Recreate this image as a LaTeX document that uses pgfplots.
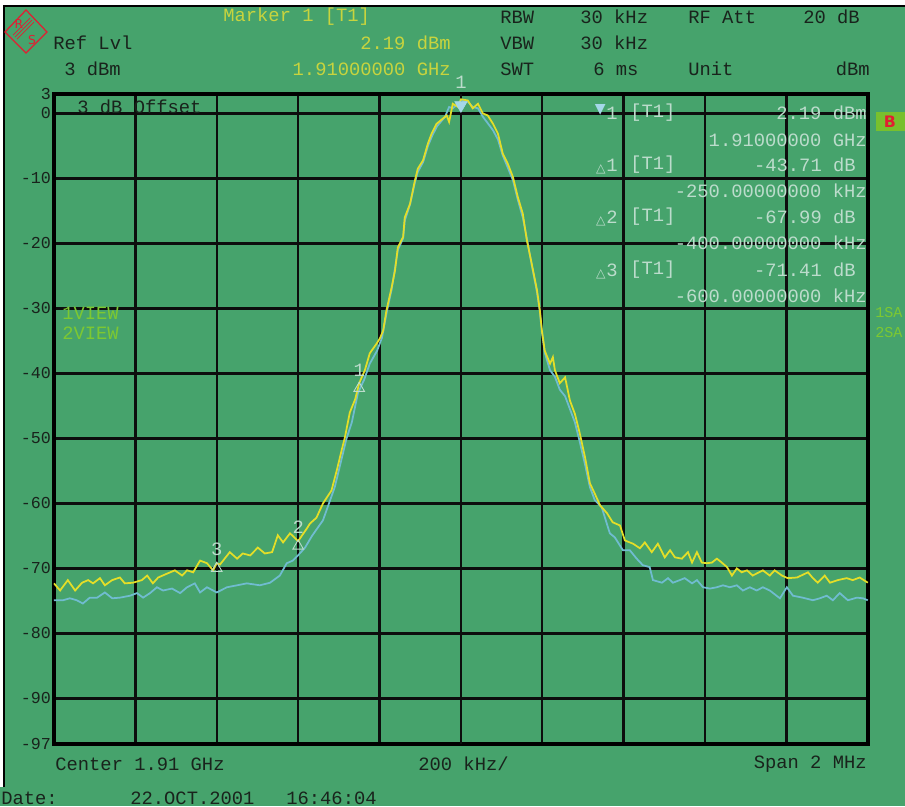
\documentclass[border=0pt]{standalone}
\usepackage{pgfplots}
\pgfplotsset{compat=1.18}
\usepackage{fontspec}
\newfontfamily\mono{Liberation Mono}
\newfontfamily\dejavu{DejaVu Sans}
\definecolor{bg}{RGB}{70,163,108}
\definecolor{dark}{RGB}{25,35,28}
\definecolor{ytxt}{RGB}{200,212,62}
\definecolor{ltxt}{RGB}{188,220,204}
\definecolor{ytrace}{RGB}{228,222,40}
\definecolor{btrace}{RGB}{112,188,208}
\definecolor{vgreen}{RGB}{125,200,50}
\definecolor{boxgreen}{RGB}{120,192,45}
\definecolor{mkblue}{RGB}{165,215,232}
\definecolor{rsred}{RGB}{225,30,50}
\newcommand\tf{\mono\fontsize{10.7}{12}\selectfont}
\begin{document}
\begin{tikzpicture}[x=0.02cm,y=-0.02cm]
\useasboundingbox (0,0) rectangle (905,806);
\clip (0,0) rectangle (905,806);
\fill[bg] (0,0) rectangle (905,806);
\fill[white] (0,0) rectangle (905,5);
\fill[white] (0,0) rectangle (3,787);
\draw[black, line width=1pt] (4,787) -- (4,6) -- (905,6);
% R&S logo
\draw[rsred, line width=0.7pt] (26,10) -- (47,32) -- (26,53) -- (5,32) -- cycle;
\foreach \o in {-2,0,2} {\draw[rsred, line width=0.4pt] (15+\o,37+\o) -- (32+\o,20+\o);}
\node[rsred, font=\dejavu\fontsize{7}{8}\selectfont, inner sep=0] at (19,24) {R};
\node[rsred, font=\dejavu\fontsize{7}{8}\selectfont, inner sep=0] at (32,40) {S};
\begin{axis}[
  at={(1.08cm,-1.88cm)}, anchor=north west,
  scale only axis, width=16.28cm, height=13cm,
  xmin=-1000, xmax=1000, ymin=-97, ymax=3,
  xtick={-800,-600,-400,-200,0,200,400,600,800}, xticklabels={},
  extra x ticks={0}, extra x tick labels={},
  extra x tick style={grid style={black, line width=2.3pt}},
  ytick={-97,-90,-80,-70,-60,-50,-40,-30,-20,-10,0,3},
  yticklabels={-97,-90,-80,-70,-60,-50,-40,-30,-20,-10,0,3},
  major tick length=0pt,
  grid=major, major grid style={black!95, line width=1.35pt},
  axis line style={black, line width=1.9pt},
  yticklabel style={font=\mono\fontsize{9.5}{10}\selectfont, text=dark, inner sep=1.5pt},
  clip=false,
]
\addplot[btrace, line width=1pt] coordinates {
(-1000,-74.9) (-978,-74.9) (-961,-74.6) (-944,-74.9) (-929,-75.4) (-912,-74.5) (-894,-74.5) (-875,-73.7) (-857,-74.6) (-838,-74.5) (-813,-74.2) (-796,-73.8) (-781,-74.5) (-764,-73.8) (-747,-72.9) (-732,-73.4) (-710,-73.1) (-690,-73.8) (-673,-72.9) (-654,-72.3) (-641,-73.7) (-624,-72.9) (-600,-73.7) (-575,-72.9) (-550,-72.6) (-526,-72.3) (-494,-72.6) (-469,-72.2) (-445,-71.1) (-428,-69.2) (-413,-68.8) (-396,-67.7) (-383,-66.8) (-366,-65.0) (-339,-62.6) (-310,-57.5) (-281,-50.0) (-268,-47.5) (-253,-43.0) (-238,-41.0) (-224,-38.5) (-206,-36.5) (-194,-34.5) (-182,-30.5) (-170,-27.0) (-155,-21.0) (-142,-19.2) (-138,-16.5) (-125,-14.0) (-113,-10.6) (-106,-9.0) (-93,-7.5) (-81,-5.0) (-71,-3.5) (-59,-2.0) (-39,-0.5) (-29,1.0) (-20,0.8) (-7,1.5) (0,2.0) (17,1.8) (29,1.0) (42,0.8) (54,-0.5) (66,-1.5) (79,-2.6) (91,-4.0) (103,-6.5) (115,-8.3) (128,-10.3) (140,-13.3) (152,-16.0) (162,-19.2) (174,-23.3) (187,-27.5) (194,-30.5) (199,-33.6) (206,-36.8) (219,-39.5) (231,-40.5) (243,-42.5) (256,-43.5) (268,-45.5) (280,-47.5) (292,-50.5) (305,-54.0) (317,-57.5) (329,-59.5) (346,-60.6) (366,-64.6) (378,-65.2) (398,-67.2) (415,-67.2) (432,-68.5) (447,-69.5) (464,-69.8) (472,-71.8) (494,-72.2) (509,-71.5) (521,-72.2) (538,-71.8) (550,-71.5) (568,-72.3) (580,-71.8) (595,-72.9) (612,-73.1) (629,-72.9) (644,-72.6) (661,-72.9) (678,-72.6) (693,-73.4) (710,-72.9) (727,-73.4) (742,-72.9) (759,-73.4) (784,-74.6) (801,-72.9) (816,-74.2) (840,-74.5) (865,-74.9) (882,-74.6) (899,-74.2) (914,-74.9) (931,-73.8) (951,-74.9) (973,-74.5) (988,-74.6) (1000,-74.9)
};
\addplot[ytrace, line width=1pt] coordinates {
(-1000,-72.3) (-985,-73.4) (-966,-71.8) (-948,-73.4) (-931,-72.2) (-916,-71.8) (-904,-72.3) (-887,-71.5) (-875,-72.6) (-857,-71.8) (-838,-71.4) (-826,-72.3) (-806,-72.2) (-784,-71.8) (-771,-71.1) (-757,-72.3) (-744,-71.4) (-722,-70.8) (-703,-70.3) (-685,-71.1) (-673,-70.3) (-658,-70.6) (-641,-68.8) (-624,-69.2) (-609,-70.3) (-600,-69.2) (-592,-69.4) (-568,-67.5) (-550,-68.5) (-536,-67.7) (-518,-68.0) (-499,-66.8) (-482,-67.7) (-464,-67.5) (-450,-64.9) (-437,-66.0) (-420,-64.6) (-400,-65.8) (-378,-63.8) (-371,-63.1) (-355,-62.2) (-339,-60.0) (-318,-58.0) (-305,-54.9) (-293,-51.8) (-285,-49.8) (-273,-46.0) (-260,-44.0) (-250,-41.5) (-236,-39.5) (-224,-36.9) (-207,-35.4) (-199,-34.6) (-191,-33.4) (-183,-30.3) (-170,-26.7) (-162,-24.2) (-155,-20.6) (-142,-19.0) (-138,-16.0) (-125,-13.9) (-113,-10.3) (-106,-8.5) (-93,-7.2) (-81,-4.6) (-72,-3.1) (-60,-1.6) (-35,-0.3) (-29,-1.3) (-20,1.5) (-7,1.0) (0,2.19) (17,2.0) (29,0.8) (42,1.5) (54,0.0) (66,-0.3) (79,-1.6) (91,-3.1) (103,-6.2) (115,-7.7) (128,-9.8) (140,-12.9) (152,-15.4) (162,-19.5) (174,-23.1) (187,-27.2) (194,-30.3) (199,-33.4) (206,-36.5) (219,-38.5) (226,-37.5) (231,-39.5) (243,-41.5) (256,-40.6) (268,-44.2) (280,-46.2) (292,-49.2) (305,-52.9) (317,-56.9) (329,-58.5) (342,-60.3) (359,-61.5) (373,-62.9) (391,-63.4) (403,-65.7) (423,-66.2) (440,-66.9) (452,-66.0) (469,-67.5) (484,-66.2) (501,-68.3) (514,-67.2) (526,-68.3) (543,-68.5) (558,-67.5) (568,-69.1) (580,-67.5) (592,-69.1) (604,-69.2) (617,-69.1) (629,-68.5) (641,-69.1) (654,-69.8) (666,-71.1) (678,-70.0) (690,-70.6) (703,-70.3) (717,-71.1) (742,-70.3) (759,-71.1) (771,-70.3) (789,-71.1) (803,-71.5) (826,-71.4) (853,-70.6) (865,-71.5) (877,-72.2) (894,-71.1) (907,-72.2) (926,-71.8) (948,-71.5) (963,-71.8) (980,-71.4) (1000,-72.2)
};
% marker 1 (filled, pointing down)
\addplot[only marks, mark=triangle*, mark size=4pt, mark options={rotate=180, fill=mkblue, draw=mkblue, yshift=0.12cm},
  nodes near coords, point meta=explicit symbolic,
  every node near coord/.style={font=\tf, text=ltxt, anchor=south, yshift=0.22cm}]
  coordinates {(0,2.19)[1]};
% delta markers
\addplot[only marks, mark=triangle, mark size=3.5pt, mark options={draw=ltxt, line width=0.5pt, yshift=-0.1cm},
  nodes near coords, point meta=explicit symbolic,
  every node near coord/.style={font=\tf, text=ltxt, anchor=south, yshift=0.12cm}]
  coordinates {(-250,-41.52)[1] (-400,-65.8)[2] (-600,-69.22)[3]};
\end{axis}
% header text
\node[anchor=west, inner sep=0, font=\tf, text=ytxt] at (223,17) {Marker 1 [T1]};
\node[anchor=west, inner sep=0, font=\tf, text=dark] at (53,43) {Ref Lvl};
\node[anchor=west, inner sep=0, font=\tf, text=dark] at (64,69) {3 dBm};
\node[anchor=east, inner sep=0, font=\tf, text=ytxt] at (451,43) {2.19 dBm};
\node[anchor=east, inner sep=0, font=\tf, text=ytxt] at (451,69) {1.91000000 GHz};
\node[anchor=west, inner sep=0, font=\tf, text=dark] at (500,17) {RBW};
\node[anchor=west, inner sep=0, font=\tf, text=dark] at (580,17) {30 kHz};
\node[anchor=west, inner sep=0, font=\tf, text=dark] at (688,17) {RF Att};
\node[anchor=east, inner sep=0, font=\tf, text=dark] at (860,17) {20 dB};
\node[anchor=west, inner sep=0, font=\tf, text=dark] at (500,43) {VBW};
\node[anchor=west, inner sep=0, font=\tf, text=dark] at (580,43) {30 kHz};
\node[anchor=west, inner sep=0, font=\tf, text=dark] at (500,69) {SWT};
\node[anchor=west, inner sep=0, font=\tf, text=dark] at (593,69) {6 ms};
\node[anchor=west, inner sep=0, font=\tf, text=dark] at (688,69) {Unit};
\node[anchor=east, inner sep=0, font=\tf, text=dark] at (870,69) {dBm};
% inside plot
\node[anchor=west, inner sep=0, font=\tf, text=dark] at (77,107) {3 dB Offset};
\node[anchor=west, inner sep=0, font=\tf, text=vgreen] at (62,313) {1VIEW};
\node[anchor=west, inner sep=0, font=\tf, text=vgreen] at (62,333) {2VIEW};
\node[anchor=west, inner sep=0, font=\mono\fontsize{8.6}{10}\selectfont, text=vgreen] at (875,313) {1SA};
\node[anchor=west, inner sep=0, font=\mono\fontsize{8.6}{10}\selectfont, text=vgreen] at (875,333) {2SA};
\fill[boxgreen] (876,112) rectangle (905,131);
\node[inner sep=0, font=\dejavu\bfseries\fontsize{9}{10}\selectfont, text=rsred] at (890,121.5) {B};
% marker table
\node[anchor=east, inner sep=0, font=\dejavu\fontsize{8}{9}\selectfont, text=mkblue] at (606,110) {▼};
\node[anchor=west, inner sep=0, font=\tf, text=ltxt] at (606,113) {1};
\node[anchor=west, inner sep=0, font=\tf, text=ltxt] at (630,113) {[T1]};
\node[anchor=east, inner sep=0, font=\tf, text=ltxt] at (867,113) {2.19 dBm};
\node[anchor=east, inner sep=0, font=\tf, text=ltxt] at (867,140) {1.91000000 GHz};
\foreach \n/\y/\v/\f in {1/165/-43.71/-250,2/217/-67.99/-400,3/270/-71.41/-600} {
  \node[anchor=east, inner sep=0, font=\dejavu\fontsize{7}{8}\selectfont, text=ltxt] at (606,\y+4) {△};
  \node[anchor=west, inner sep=0, font=\tf, text=ltxt] at (606,\y) {\n};
  \node[anchor=west, inner sep=0, font=\tf, text=ltxt] at (630,\y) {[T1]};
  \node[anchor=east, inner sep=0, font=\tf, text=ltxt] at (856,\y) {\v\ dB};
  \node[anchor=east, inner sep=0, font=\tf, text=ltxt] at (867,\y+25.5) {\f.00000000 kHz};
}
% footer
\node[anchor=west, inner sep=0, font=\tf, text=dark] at (55,764) {Center 1.91 GHz};
\node[anchor=west, inner sep=0, font=\tf, text=dark] at (418,764) {200 kHz/};
\node[anchor=east, inner sep=0, font=\tf, text=dark] at (867,764) {Span 2 MHz};
\node[anchor=west, inner sep=0, font=\tf, text=dark] at (1,798) {Date:};
\node[anchor=west, inner sep=0, font=\tf, text=dark] at (130,798) {22.OCT.2001};
\node[anchor=west, inner sep=0, font=\tf, text=dark] at (286,798) {16:46:04};
\end{tikzpicture}
\end{document}
